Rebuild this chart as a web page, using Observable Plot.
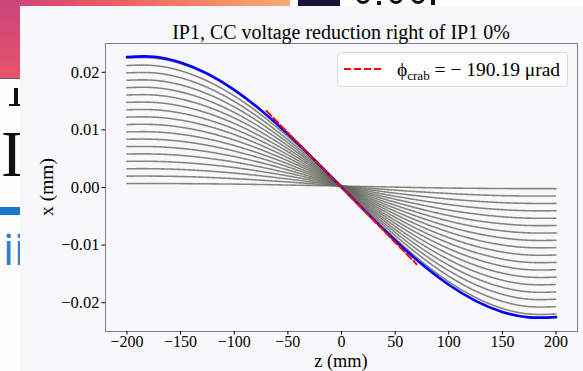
<!DOCTYPE html>
<html>
<head>
<meta charset="utf-8">
<script src="https://cdn.jsdelivr.net/npm/d3@7"></script>
<script src="https://cdn.jsdelivr.net/npm/@observablehq/plot@0.6"></script>
<style>
  html, body { margin: 0; padding: 0; }
  body { width: 583px; height: 371px; overflow: hidden; position: relative; background: #fdfdfe; font-family: "Liberation Serif", "Times New Roman", serif; }
  #panel { position: absolute; left: 20px; top: 6px; width: 563px; height: 365px; background: #f8f8fb; }
  #chart { position: absolute; left: 0; top: 0; }
  .lbl { position: absolute; color: #000; white-space: nowrap; line-height: 1; }
  .blob { position: absolute; top: -6px; height: 10px; border: 3px solid #111; border-radius: 0 0 7px 7px; box-sizing: border-box; }
</style>
</head>
<body>
<!-- background slide decorations -->
<div style="position:absolute;left:0;top:0;width:290px;height:6px;background:linear-gradient(90deg,#c8457c 0%,#dd4f70 20%,#ec5f64 40%,#f47862 60%,#f8936a 80%,#fbaa78 100%)"></div>
<div style="position:absolute;left:0;top:0;width:20px;height:78px;background:linear-gradient(180deg,#c8457c 0%,#d94a72 45%,#e6566a 100%)"></div>
<div style="position:absolute;left:0;top:78px;width:20px;height:1px;background:#666"></div>
<div style="position:absolute;left:298px;top:0;width:42px;height:6px;background:#1a1538"></div>
<div class="blob" style="left:356px;width:14px"></div>
<div style="position:absolute;left:377px;top:1px;width:4px;height:4px;background:#111"></div>
<div class="blob" style="left:389px;width:14px"></div>
<div class="blob" style="left:411px;width:14px"></div>
<div style="position:absolute;left:431px;top:0;width:4px;height:5px;background:#111"></div>
<div style="position:absolute;left:14px;top:88px;width:4px;height:18px;background:#111"></div>
<div style="position:absolute;left:9px;top:104px;width:11px;height:2px;background:#111"></div>
<div style="position:absolute;left:1px;top:121px;font:66px 'Liberation Serif',serif;color:#111;line-height:1">I</div>
<div style="position:absolute;left:0;top:207px;width:20px;height:8px;background:#1976c9"></div>
<div style="position:absolute;left:3px;top:226px;font:44px 'Open Sans',sans-serif;color:#2a7fd0;line-height:1">ii</div>

<div id="panel">
  <div id="chart"></div>
  <div id="title" class="lbl" style="left:85px;width:472px;top:16px;text-align:center;font-size:20px"></div>
  <div id="ylabel" class="lbl" style="left:27px;top:181px;font-size:19.5px;transform:translate(-50%,-50%) rotate(-90deg)"></div>
  <div id="xlabel" class="lbl" style="left:85px;width:472px;top:344.5px;text-align:center;font-size:18.3px;line-height:1.107"></div>
  <div id="legend" style="position:absolute;left:317px;top:46px;width:229px;height:33px;border:1px solid #d9d9d9;border-radius:4px;background:rgba(255,255,255,0.85)">
    <svg width="45" height="10" style="position:absolute;left:5px;top:11px"><line x1="1" y1="5" x2="41" y2="5" stroke="#ff0000" stroke-width="2" stroke-dasharray="7,3"/></svg>
    <div id="legendText" class="lbl" style="left:59px;top:7px;font-size:19.5px"></div>
  </div>
</div>

<script>
// ---- data ----
const titleText = "IP1, CC voltage reduction right of IP1 0%";
const xLabelText = "z (mm)";
const yLabelText = "x (mm)";
const crabLabel = "− 190.19 μrad";

const zValues = [-200, -175, -150, -125, -100, -75, -50, -25, 0, 25, 50, 75, 100, 125, 150, 175, 200];

// gray bunch profiles (x in mm at each z)
const grayCurves = [
  [0.00070,0.00070,0.00068,0.00064,0.00059,0.00052,0.00043,0.00034,0.00025,0.00016,0.00007,-0.00002,-0.00009,-0.00014,-0.00018,-0.00020,-0.00020],
  [0.00198,0.00198,0.00191,0.00176,0.00154,0.00127,0.00096,0.00061,0.00025,-0.00011,-0.00046,-0.00077,-0.00104,-0.00126,-0.00141,-0.00148,-0.00148],
  [0.00326,0.00326,0.00313,0.00287,0.00250,0.00203,0.00148,0.00088,0.00025,-0.00038,-0.00098,-0.00153,-0.00200,-0.00237,-0.00263,-0.00276,-0.00276],
  [0.00454,0.00454,0.00435,0.00399,0.00346,0.00279,0.00201,0.00115,0.00025,-0.00065,-0.00151,-0.00229,-0.00296,-0.00349,-0.00385,-0.00404,-0.00404],
  [0.00582,0.00582,0.00558,0.00510,0.00442,0.00354,0.00253,0.00142,0.00025,-0.00092,-0.00203,-0.00304,-0.00392,-0.00460,-0.00508,-0.00532,-0.00532],
  [0.00710,0.00710,0.00680,0.00622,0.00537,0.00430,0.00305,0.00168,0.00025,-0.00118,-0.00255,-0.00380,-0.00487,-0.00572,-0.00630,-0.00660,-0.00660],
  [0.00838,0.00838,0.00803,0.00733,0.00633,0.00506,0.00358,0.00195,0.00025,-0.00145,-0.00308,-0.00456,-0.00583,-0.00683,-0.00753,-0.00788,-0.00788],
  [0.00966,0.00966,0.00925,0.00845,0.00729,0.00582,0.00410,0.00222,0.00025,-0.00172,-0.00360,-0.00532,-0.00679,-0.00795,-0.00875,-0.00916,-0.00916],
  [0.01094,0.01094,0.01048,0.00956,0.00824,0.00657,0.00463,0.00249,0.00025,-0.00199,-0.00413,-0.00607,-0.00774,-0.00906,-0.00998,-0.01044,-0.01044],
  [0.01222,0.01222,0.01170,0.01068,0.00920,0.00733,0.00515,0.00275,0.00025,-0.00225,-0.00465,-0.00683,-0.00870,-0.01018,-0.01120,-0.01172,-0.01172],
  [0.01350,0.01350,0.01293,0.01179,0.01016,0.00809,0.00567,0.00302,0.00025,-0.00252,-0.00517,-0.00759,-0.00966,-0.01129,-0.01243,-0.01300,-0.01300],
  [0.01478,0.01478,0.01415,0.01291,0.01112,0.00884,0.00620,0.00329,0.00025,-0.00279,-0.00570,-0.00834,-0.01062,-0.01241,-0.01365,-0.01428,-0.01428],
  [0.01606,0.01606,0.01537,0.01402,0.01207,0.00960,0.00672,0.00356,0.00025,-0.00306,-0.00622,-0.00910,-0.01157,-0.01352,-0.01487,-0.01556,-0.01556],
  [0.01734,0.01734,0.01660,0.01514,0.01303,0.01036,0.00725,0.00383,0.00025,-0.00333,-0.00675,-0.00986,-0.01253,-0.01464,-0.01610,-0.01684,-0.01684],
  [0.01862,0.01862,0.01782,0.01625,0.01399,0.01111,0.00777,0.00409,0.00025,-0.00359,-0.00727,-0.01061,-0.01349,-0.01575,-0.01732,-0.01812,-0.01812],
  [0.01990,0.01990,0.01905,0.01737,0.01494,0.01187,0.00829,0.00436,0.00025,-0.00386,-0.00779,-0.01137,-0.01444,-0.01687,-0.01855,-0.01940,-0.01940],
  [0.02118,0.02118,0.02027,0.01848,0.01590,0.01263,0.00882,0.00463,0.00025,-0.00413,-0.00832,-0.01213,-0.01540,-0.01798,-0.01977,-0.02068,-0.02068],
  [0.02246,0.02246,0.02150,0.01960,0.01686,0.01339,0.00934,0.00490,0.00025,-0.00440,-0.00884,-0.01289,-0.01636,-0.01910,-0.02100,-0.02196,-0.02196]
];

// blue profile at the IP
const blueCurve = [0.02266,0.02270,0.02170,0.01976,0.01696,0.01341,0.00928,0.00474,0.00003,-0.00468,-0.00921,-0.01333,-0.01688,-0.01967,-0.02160,-0.02254,-0.02250];

// red dashed crab-angle line
const crabZ = [-70, 70];
const crabX = [0.01331, -0.01331];

const xTicks = [-200, -150, -100, -50, 0, 50, 100, 150, 200];
const yTicks = [-0.02, -0.01, 0, 0.01, 0.02];

// ---- build tables ----
const grayRows = grayCurves.flatMap((vals, i) => vals.map((v, k) => ({curve: i, z: zValues[k], x: v})));
const blueRows = blueCurve.map((v, k) => ({z: zValues[k], x: v}));
const redRows = crabZ.map((z, k) => ({z, x: crabX[k]}));

const minus = (s) => s.replace("-", "\u2212");

const chart = Plot.plot({
  width: 563,
  height: 365,
  marginLeft: 85,
  marginRight: 6,
  marginTop: 37,
  marginBottom: 40,
  x: {domain: [-220, 220]},
  y: {domain: [-0.025, 0.025]},
  style: {background: "transparent", fontFamily: "'Liberation Serif', 'Times New Roman', serif", fontSize: "16px", color: "#000", overflow: "visible"},
  marks: [
    Plot.line(grayRows, {x: "z", y: "x", z: "curve", stroke: "#66665e", strokeOpacity: 0.8, strokeWidth: 1.6, strokeDasharray: "1,1", curve: "natural"}),
    Plot.line(blueRows, {x: "z", y: "x", stroke: "#0000ff", strokeWidth: 2.6, curve: "natural"}),
    Plot.line(redRows, {x: "z", y: "x", stroke: "#ff0000", strokeWidth: 2, strokeDasharray: "7,3"}),
    Plot.frame({stroke: "#808080"}),
    Plot.axisX({ticks: xTicks, tickSize: 3.5, tickPadding: 1, label: null, fontSize: 16, tickFormat: d => minus(String(d))}),
    Plot.axisY({ticks: yTicks, tickSize: 3.5, tickPadding: 2.5, label: null, fontSize: 16.5, tickFormat: d => minus(d.toFixed(2))})
  ]
});
document.getElementById("chart").appendChild(chart);
document.getElementById("title").textContent = titleText;
document.getElementById("xlabel").textContent = xLabelText;
document.getElementById("ylabel").textContent = yLabelText;
document.getElementById("legendText").innerHTML = "ϕ<span style='font-size:13px;position:relative;top:4px'>crab</span> = " + crabLabel;
</script>
</body>
</html>
